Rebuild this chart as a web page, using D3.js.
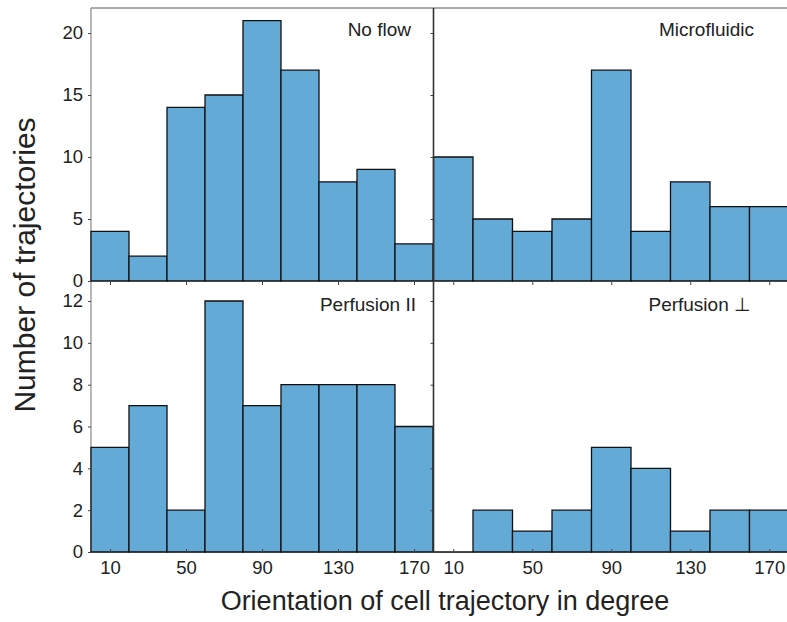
<!DOCTYPE html>
<html>
<head>
<meta charset="utf-8">
<script src="https://cdn.jsdelivr.net/npm/d3@7"></script>
<style>
  body { margin: 0; background: #fff; }
  text { font-family: "Liberation Sans", Arial, Helvetica, sans-serif; fill: #222; }
</style>
</head>
<body>
<div id="chart"></div>
<script>
// bins of 20 degrees, centres 10..170
var binStarts = [0, 20, 40, 60, 80, 100, 120, 140, 160];
var xTicks = [10, 50, 90, 130, 170];
var topTicks = [0, 5, 10, 15, 20];
var bottomTicks = [0, 2, 4, 6, 8, 10, 12];

var noFlow = [4, 2, 14, 15, 21, 17, 8, 9, 3];
var microfluidic = [10, 5, 4, 5, 17, 4, 8, 6, 6];
var perfusionPar = [5, 7, 2, 12, 7, 8, 8, 8, 6];
var perfusionPerp = [0, 2, 1, 2, 5, 4, 1, 2, 2];

var width = 787, height = 622;
var barColor = '#64aad7';
var tickFont = 18.5;

var svg = d3.select('#chart').append('svg')
    .attr('width', width)
    .attr('height', height);

var xLeft = d3.scaleLinear().domain([0, 180]).range([91, 433]);
var xRight = d3.scaleLinear().domain([0, 180]).range([433.5, 789]);
var yTop = d3.scaleLinear().domain([0, 22]).range([281, 8.2]);
var yBottom = d3.scaleLinear().domain([0, 13]).range([552, 280.1]);

// frame lines (drawn first, bars go on top)
svg.append('line')
    .attr('x1', 91).attr('x2', width)
    .attr('y1', 8).attr('y2', 8)
    .attr('stroke', '#555').attr('stroke-width', 1);
svg.append('line')
    .attr('x1', 91).attr('x2', 91)
    .attr('y1', 8).attr('y2', 552)
    .attr('stroke', '#888').attr('stroke-width', 1.2);
svg.append('line')
    .attr('x1', 91).attr('x2', width)
    .attr('y1', 552.5).attr('y2', 552.5)
    .attr('stroke', '#ccc').attr('stroke-width', 1);

var panels = [
    {name: 'No flow', values: noFlow, x: xLeft, y: yTop, lx: 411, ly: 36},
    {name: 'Microfluidic', values: microfluidic, x: xRight, y: yTop, lx: 754, ly: 36},
    {name: 'Perfusion II', values: perfusionPar, x: xLeft, y: yBottom, lx: 416, ly: 311},
    {name: 'Perfusion \u22A5', values: perfusionPerp, x: xRight, y: yBottom, lx: 751, ly: 311}
];

panels.forEach(function(p) {
    var g = svg.append('g');
    // paths rather than rects so that empty bins still show their outline
    g.selectAll('path')
        .data(p.values)
        .enter().append('path')
        .attr('d', function(d, i) {
            var x0 = p.x(binStarts[i]), x1 = p.x(binStarts[i] + 20);
            var y0 = p.y(0), y1 = p.y(d);
            return 'M' + x0 + ',' + y0 + 'V' + y1 + 'H' + x1 + 'V' + y0 + 'Z';
        })
        .attr('fill', barColor)
        .attr('stroke', '#111')
        .attr('stroke-width', 1.3);

    g.append('text')
        .attr('x', p.lx)
        .attr('y', p.ly)
        .attr('text-anchor', 'end')
        .attr('font-size', 19)
        .text(p.name);
});

// y axes
function yAxis(scale, ticks) {
    return d3.axisLeft(scale).tickValues(ticks).tickSize(3).tickPadding(5);
}
function styleAxis(sel) {
    sel.select('.domain').remove();
    sel.selectAll('.tick line').attr('stroke', '#444');
    sel.selectAll('.tick text').attr('font-size', tickFont)
        .attr('font-family', '"Liberation Sans", Arial, sans-serif')
        .attr('fill', '#222');
}

svg.append('g').attr('transform', 'translate(91,0)')
    .call(yAxis(yTop, topTicks)).call(styleAxis);
svg.append('g').attr('transform', 'translate(91,0)')
    .call(yAxis(yBottom, bottomTicks)).call(styleAxis);

// ticks on middle divider (no labels)
svg.append('g').attr('transform', 'translate(433.5,0)')
    .call(yAxis(yTop, topTicks).tickFormat('')).call(styleAxis);
svg.append('g').attr('transform', 'translate(433.5,0)')
    .call(yAxis(yBottom, bottomTicks).tickFormat('')).call(styleAxis);

// x ticks below top panels and along the bottom
[xLeft, xRight].forEach(function(xs) {
    svg.append('g').attr('transform', 'translate(0,281)')
        .call(d3.axisBottom(xs).tickValues(xTicks).tickSize(4).tickFormat(''))
        .call(styleAxis);
    svg.append('g').attr('transform', 'translate(0,552)')
        .call(d3.axisBottom(xs).tickValues(xTicks).tickSize(-3).tickPadding(9))
        .call(styleAxis);
});

// middle divider
svg.append('line')
    .attr('x1', 433.5).attr('x2', 433.5)
    .attr('y1', 8).attr('y2', 552)
    .attr('stroke', '#333').attr('stroke-width', 1.6);

// axis titles
svg.append('text')
    .attr('x', 445)
    .attr('y', 610)
    .attr('text-anchor', 'middle')
    .attr('font-size', 27)
    .text('Orientation of cell trajectory in degree');

svg.append('text')
    .attr('transform', 'translate(35,265) rotate(-90)')
    .attr('text-anchor', 'middle')
    .attr('font-size', 30)
    .text('Number of trajectories');
</script>
</body>
</html>
